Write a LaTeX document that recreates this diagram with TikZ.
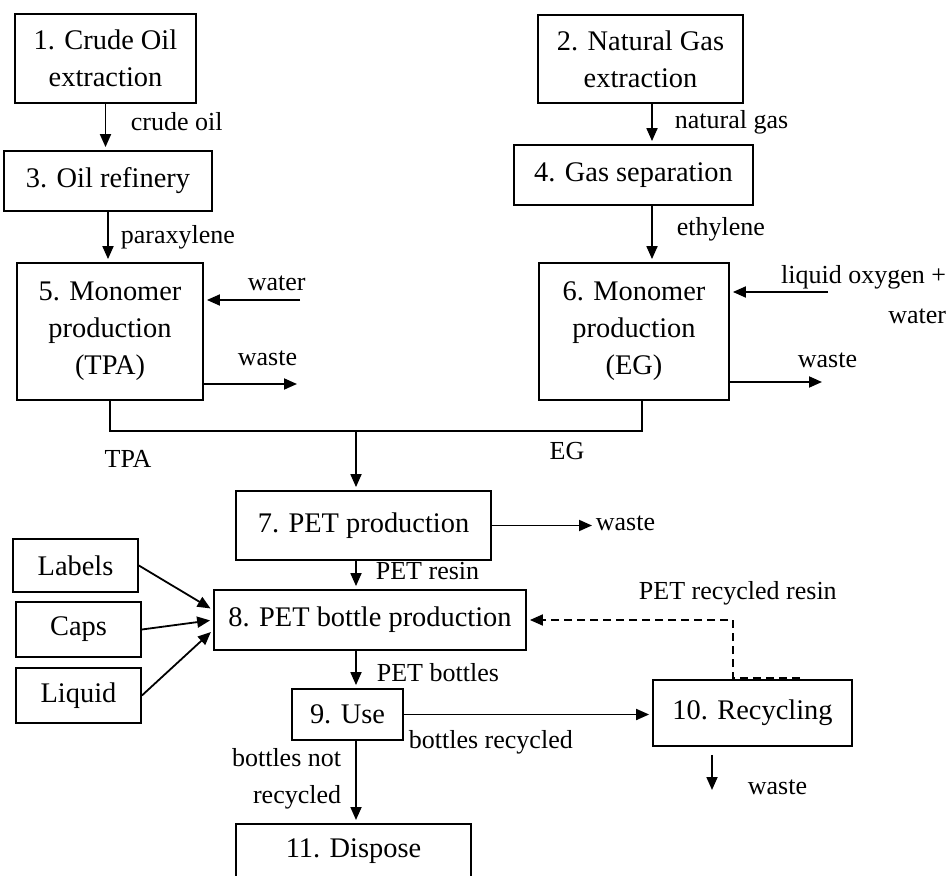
\documentclass[tikz,border=0pt]{standalone}
\usepackage{fontspec}
\setmainfont{Liberation Serif}
\usetikzlibrary{arrows.meta}

\begin{document}
\begin{tikzpicture}[x=0.5pt, y=-0.5pt, line width=0.9pt,
  pbox/.style={draw, align=center, inner sep=0pt, font=\fontsize{14.2}{18.5}\selectfont},
  lbl/.style={inner sep=0pt, font=\fontsize{13}{20}\selectfont},
  flow/.style={-{Triangle[length=6.5pt,width=5.5pt]}, shorten >=1.5pt}]
  \useasboundingbox (0,0) rectangle (952,876);
  \clip (0,0) rectangle (952,876);
  % Raw material chains:  1 -> 3 -> 5   and   2 -> 4 -> 6
  \node[pbox, minimum width=90.5pt, minimum height=44.5pt] (b1) at (105.5,58.5) {1. Crude Oil\\extraction};
  \node[pbox, minimum width=102.5pt, minimum height=44pt] (b2) at (640.5,59) {2. Natural Gas\\extraction};
  \node[pbox, minimum width=104pt, minimum height=30pt] (b3) at (108,181) {3. Oil refinery};
  \node[pbox, minimum width=119.5pt, minimum height=30pt] (b4) at (633.5,175) {4. Gas separation};
  \node[pbox, minimum width=93pt, minimum height=68.5pt] (b5) at (110,331.5) {5. Monomer\\production\\(TPA)};
  \node[pbox, minimum width=95pt, minimum height=68.5pt] (b6) at (634,331.5) {6. Monomer\\production\\(EG)};
  \coordinate (gx) at (652,0);
  \draw[flow] (b1.south) -- (b1.south |- b3.north);
  \draw[flow] (b3.south) -- (b3.south |- b5.north);
  \draw[flow] (b2.south -| gx) -- (b4.north -| gx);
  \draw[flow] (b4.south -| gx) -- (b6.north -| gx);
  \node[lbl, anchor=west] (crude) at (130,122) {crude oil};
  \node[lbl, anchor=west] (para) at (120,237) {paraxylene};
  \node[lbl, anchor=west] (ngas) at (674,122) {natural gas};
  \node[lbl, anchor=west] (ethy) at (676,229) {ethylene};
  % Inputs and waste of the monomer steps
  \coordinate (win) at (300,300);
  \coordinate (w5) at (300,384);
  \coordinate (oin) at (828,292);
  \coordinate (w6) at (825,382);
  \draw[flow] (win) -- (win -| b5.east);
  \draw[flow] (w5 -| b5.east) -- (w5);
  \draw[flow] (oin) -- (oin -| b6.east);
  \draw[flow] (w6 -| b6.east) -- (w6);
  \node[lbl, anchor=west] (water5) at (247,283) {water};
  \node[lbl, anchor=west] (waste5) at (237,358) {waste};
  \node[lbl, anchor=east, align=right] (oxy) at (947,295) {liquid oxygen +\\water};
  \node[lbl, anchor=west] (waste6) at (797,360) {waste};
  % TPA + EG join into PET production
  \coordinate (j) at (356,431);
  \draw (b5.south) |- (j) -| ([xshift=4pt]b6.south);
  \node[lbl] (tpa) at (128,459) {TPA};
  \node[lbl] (eg) at (567,451) {EG};
  \node[pbox, minimum width=127.5pt, minimum height=34.5pt] (b7) at (363.5,525.5) {7. PET production};
  \node[lbl, anchor=west] (waste7) at (595,523) {waste};
  \draw[flow] (j) -- (j |- b7.north);
  \draw[flow] (b7.east) -- (b7.east -| waste7.west);
  % Bottle production with its extra parts
  \node[pbox, minimum width=156pt, minimum height=30pt] (b8) at (370,620) {8. PET bottle production};
  \node[pbox, minimum width=62.5pt, minimum height=26.5pt] (lab) at (75.5,565.5) {Labels};
  \node[pbox, minimum width=62.5pt, minimum height=27.5pt] (cap) at (78.5,629.5) {Caps};
  \node[pbox, minimum width=62.5pt, minimum height=27.5pt] (liq) at (78.5,695.5) {Liquid};
  \draw[flow] (b7.south -| j) -- (b8.north -| j);
  \node[lbl, anchor=west] (resin) at (375,571) {PET resin};
  \draw[flow] (lab.east) -- ([yshift=5pt]b8.west);
  \draw[flow] (cap.east) -- (b8.west);
  \draw[flow] (liq.east) -- ([yshift=-5pt]b8.west);
  % Use, recycling and disposal
  \node[pbox, minimum width=55.5pt, minimum height=25.5pt] (b9) at (347.5,714.5) {9. Use};
  \node[pbox, minimum width=99.5pt, minimum height=33pt] (b10) at (752.5,713) {10. Recycling};
  \node[pbox, minimum width=117.5pt, inner ysep=7.5pt, text depth=30pt, anchor=north] (b11) at (353.5,823) {11. Dispose};
  \draw[flow] (b8.south -| j) -- (b9.north -| j);
  \node[lbl, anchor=west] (bottles) at (376,673) {PET bottles};
  \draw[flow] (b9.east) -- (b9.east -| b10.west);
  \node[lbl, anchor=west] (brec) at (408,742) {bottles recycled};
  \draw[flow] (b9.south -| j) -- (b11.north -| j);
  \node[lbl, anchor=east, align=right, font=\fontsize{13}{18.5}\selectfont] (bnot) at (342,778.5) {bottles not\\recycled};
  \coordinate (w10) at (712,793);
  \draw[flow, shorten <=4pt] (w10 |- b10.south) -- (w10);
  \node[lbl, anchor=west] (waste10) at (747,787) {waste};
  % Recycled resin goes back to bottle production
  \coordinate (rs) at (800,678);
  \coordinate (rc) at (733,678);
  \draw[flow, dash pattern=on 4pt off 2.5pt] (rs) -- (rc) |- (b8.east);
  \node[lbl, anchor=west] (rres) at (638,593) {PET recycled resin};
\end{tikzpicture}
\end{document}
